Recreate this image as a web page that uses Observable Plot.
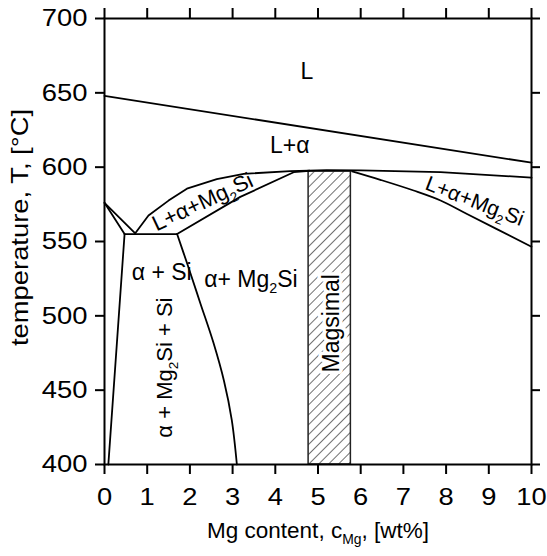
<!DOCTYPE html>
<html>
<head>
<meta charset="utf-8">
<script src="https://cdn.jsdelivr.net/npm/d3@7"></script>
<script src="https://cdn.jsdelivr.net/npm/@observablehq/plot@0.6"></script>
<style>
html, body { margin: 0; padding: 0; background: #fff; }
</style>
</head>
<body>
<div id="chart"></div>
<script>
// ---------- data (Mg wt%, temperature °C) ----------
const xTicks = [0, 1, 2, 3, 4, 5, 6, 7, 8, 9, 10];
const yTicks = [400, 450, 500, 550, 600, 650, 700];

const liquidusAl = [[0, 648], [10, 603]];
const liquidusSi = [[0, 576], [0.72, 555.5]];
const solidusAlSi = [[0, 576], [0.47, 555]];
const eutecticLine = [[0.47, 555], [1.70, 555]];
const valleyCurve = [[0.72, 555.5], [1.03, 567.5], [1.5, 577.5], [1.93, 585.5], [2.63, 592], [3.26, 595.5], [4.35, 597.3], [5.2, 598], [6.0, 597.8], [7.87, 596.6], [10, 593]];
const solidusLeft = [[1.70, 555], [3.18, 580], [4.43, 596.6], [4.8, 597.6]];
const solidusRight = [[5.8, 597.2], [6.46, 591.5], [7.24, 584.3], [7.87, 577.6], [8.49, 568.5], [10, 546.5]];
const alphaSolvus = [[0.47, 555], [0.09, 400]];
const mg2siSolvus = [[1.70, 555], [1.95, 534], [2.25, 508], [2.55, 482], [2.80, 456], [2.98, 430], [3.10, 400]];

const magsimalMg = [4.78, 5.77];
const magsimalT = [400, 597];

const labelText = ["L", "L+α", "L+α+Mg{2}Si", "L+α+Mg{2}Si", "α + Si", "α+ Mg{2}Si", "α + Mg{2}Si + Si", "Magsimal"];
const labelMg = [4.74, 4.34, 2.3, 8.67, 1.34, 3.43, 1.42, 5.31];
const labelT = [664, 614.6, 576.5, 577, 529.2, 524.4, 465.2, 495];

const xLabel = "Mg content, c{Mg}, [wt%]";
const yLabel = "temperature, T, [°C]";

// ---------- drawing ----------
const labelRotate = [0, 0, -25, 21, 0, 0, -90, -90];
const labelSize = [23, 23, 22, 21, 23, 23, 22, 23];
const regular = [0, 1, 2, 3, 4, 5, 6];
const boxed = [7];

const straight = [liquidusAl, liquidusSi, solidusAlSi, eutecticLine, valleyCurve, solidusLeft, alphaSolvus];
const smooth = [solidusRight, mg2siSolvus];
const lineStyle = {stroke: "black", strokeWidth: 1.8, strokeLinejoin: "round", strokeLinecap: "round"};
const tickStyle = {stroke: "black", strokeWidth: 2};
const xMin = xTicks[0], xMax = xTicks[xTicks.length - 1];
const yMin = yTicks[0], yMax = yTicks[yTicks.length - 1];

const chart = Plot.plot({
  width: 547,
  height: 556,
  marginLeft: 104,
  marginRight: 16,
  marginTop: 18,
  marginBottom: 92,
  style: {fontFamily: "'Liberation Sans', Arial, Helvetica, sans-serif", fontSize: "24px"},
  x: {domain: [xMin, xMax], label: null},
  y: {domain: [yMin, yMax], label: null},
  marks: [
    Plot.rect([{x1: magsimalMg[0], x2: magsimalMg[1], y1: magsimalT[0], y2: magsimalT[1]}],
      {x1: "x1", x2: "x2", y1: "y1", y2: "y2", fill: "url(#hatch)", stroke: "#222", strokeWidth: 1.5}),
    ...straight.map(c => Plot.line(c, lineStyle)),
    ...smooth.map(c => Plot.line(c, {...lineStyle, curve: "catmull-rom"})),
    Plot.text(boxed, {x: i => labelMg[i], y: i => labelT[i], text: i => labelText[i], rotate: i => labelRotate[i],
      fontSize: i => labelSize[i], fill: "black", stroke: "white", strokeWidth: 7}),
    Plot.text(regular, {x: i => labelMg[i], y: i => labelT[i], text: i => labelText[i], rotate: i => labelRotate[i],
      fontSize: i => labelSize[i], fill: "black"}),
    Plot.frame({stroke: "black", strokeWidth: 2}),
    Plot.axisX({anchor: "bottom", ticks: xTicks, tickSize: 0, tickPadding: 23, label: null, fontSize: 24}),
    Plot.axisY({anchor: "left", ticks: yTicks, tickSize: 0, tickPadding: 17, label: null, fontSize: 24}),
    Plot.text([xLabel], {frameAnchor: "bottom", textAnchor: "middle", lineAnchor: "middle", dy: 66, fontSize: 22.5, fill: "black"}),
    Plot.text([yLabel], {frameAnchor: "left", textAnchor: "middle", lineAnchor: "middle", rotate: -90, dx: -84, dy: -14, fontSize: 24, fill: "black"}),
    // outward ticks on all four sides
    Plot.ruleX(xTicks, {x: d => d, y1: yMin, y2: yMin, insetBottom: -10, ...tickStyle}),
    Plot.ruleX(xTicks, {x: d => d, y1: yMax, y2: yMax, insetTop: -10, ...tickStyle}),
    Plot.ruleY(yTicks, {y: d => d, x1: xMin, x2: xMin, insetLeft: -9, ...tickStyle}),
    Plot.ruleY(yTicks, {y: d => d, x1: xMax, x2: xMax, insetRight: -9, ...tickStyle})
  ]
});

document.getElementById("chart").appendChild(chart);

// hatch pattern for the Magsimal band
const svgns = "http://www.w3.org/2000/svg";
const defs = document.createElementNS(svgns, "defs");
const pat = document.createElementNS(svgns, "pattern");
pat.setAttribute("id", "hatch");
pat.setAttribute("patternUnits", "userSpaceOnUse");
pat.setAttribute("width", "7");
pat.setAttribute("height", "7");
pat.setAttribute("patternTransform", "rotate(45)");
const bg = document.createElementNS(svgns, "rect");
bg.setAttribute("width", "7"); bg.setAttribute("height", "7"); bg.setAttribute("fill", "white");
const hl = document.createElementNS(svgns, "path");
hl.setAttribute("d", "M0,0V7"); hl.setAttribute("stroke", "#111"); hl.setAttribute("stroke-width", "1.2");
pat.appendChild(bg); pat.appendChild(hl); defs.appendChild(pat);
chart.appendChild(defs);

// subscripts written as {..}
chart.querySelectorAll("text").forEach(el => {
  const s = el.textContent;
  if (!s.includes("{")) return;
  const fs = parseFloat(getComputedStyle(el).fontSize) || 20;
  const shift = fs * 0.28;
  const parts = s.split(/(\{[^}]*\})/).filter(p => p.length);
  el.textContent = "";
  let down = false;
  for (const p of parts) {
    const ts = document.createElementNS(svgns, "tspan");
    if (p.startsWith("{")) {
      ts.textContent = p.slice(1, -1);
      ts.setAttribute("font-size", (fs * 0.62).toFixed(1));
      ts.setAttribute("dy", shift.toFixed(1));
      down = true;
    } else {
      ts.textContent = p;
      if (down) { ts.setAttribute("dy", (-shift).toFixed(1)); down = false; }
    }
    el.appendChild(ts);
  }
});

// the reference's numerals and y title are horizontally wider than the font
chart.querySelectorAll("text").forEach(el => {
  const s = el.textContent;
  if (/^\d+$/.test(s) || s === yLabel) {
    const len = el.getComputedTextLength();
    if (len > 0) {
      el.setAttribute("textLength", (len * 1.14).toFixed(1));
      el.setAttribute("lengthAdjust", "spacingAndGlyphs");
    }
  }
});
</script>
</body>
</html>
